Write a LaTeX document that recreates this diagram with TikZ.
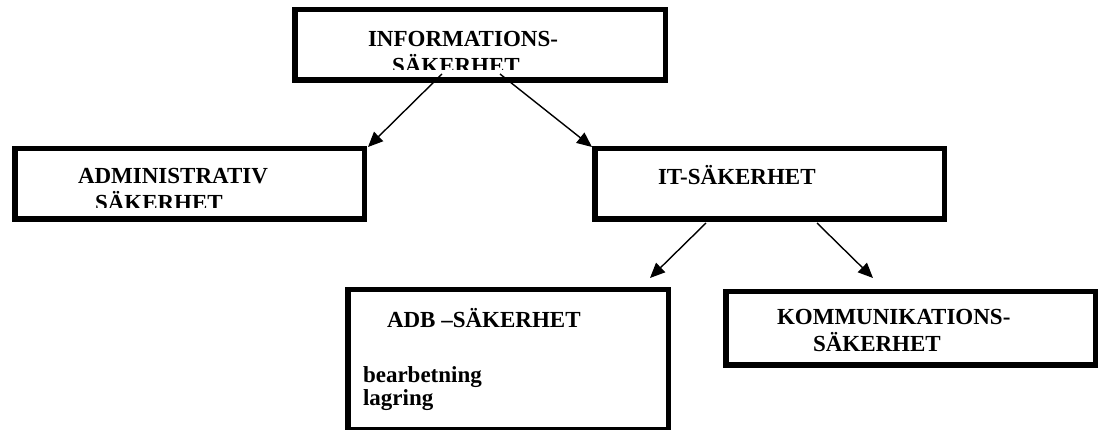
\documentclass[tikz,border=0pt]{standalone}
\usepackage{fontspec}
\setmainfont{Liberation Serif}
\usetikzlibrary{arrows.meta}
\begin{document}
\begin{tikzpicture}[x=1pt,y=-1pt,
  box/.style={draw=black,line width=5.5pt,rectangle,inner sep=0pt,outer sep=0pt,fill=none},
  lbl/.style={anchor=base west,inner sep=0pt,outer sep=0pt,font=\fontsize{23}{27}\selectfont\bfseries},
  arr/.style={line width=1.4pt,-{Triangle[length=15pt,width=13pt]}}]
\useasboundingbox[fill=white] (0,0) rectangle (1098,430);
% boxes
\node[box,minimum width=370.5pt,minimum height=70.5pt] (top) at (480,45) {};
\node[box,minimum width=349.5pt,minimum height=70.5pt] (adm) at (189.5,184) {};
\node[box,minimum width=349.5pt,minimum height=70.5pt] (it) at (769.5,184) {};
\node[box,minimum width=320.5pt,minimum height=139.5pt] (adb) at (508,359.5) {};
\node[box,minimum width=369.5pt,minimum height=73.5pt] (kom) at (910.5,328.5) {};
% texts
\begin{scope}
\clip (297,12) rectangle (663,70);
\node[lbl] (t1) at (368,47) {INFORMATIONS-};
\node[lbl] (t2) at (392,73.5) {SÄKERHET};
\end{scope}
\begin{scope}
\clip (17,151) rectangle (362,208);
\node[lbl] (a1) at (78,184) {ADMINISTRATIV};
\node[lbl] (a2) at (95,210.5) {SÄKERHET};
\end{scope}
\node[lbl] (i1) at (658,185) {IT-SÄKERHET};
\node[lbl] (d1) at (387,327) {ADB –SÄKERHET};
\node[lbl] (d2) at (363,382) {bearbetning};
\node[lbl] (d3) at (363,405) {lagring};
\node[lbl] (k1) at (777,325) {KOMMUNIKATIONS-};
\node[lbl] (k2) at (813,352) {SÄKERHET};
% connectors
\coordinate (s1) at (442,74);
\coordinate (e1) at (368,147);
\coordinate (s2) at (500,74);
\coordinate (e2) at (592,147);
\coordinate (s3) at (706,223);
\coordinate (e3) at (650,278);
\coordinate (s4) at (817,223);
\coordinate (e4) at (873,278);
\draw[arr] (s1) -- (e1);
\draw[arr] (s2) -- (e2);
\draw[arr] (s3) -- (e3);
\draw[arr] (s4) -- (e4);
\end{tikzpicture}
\end{document}
